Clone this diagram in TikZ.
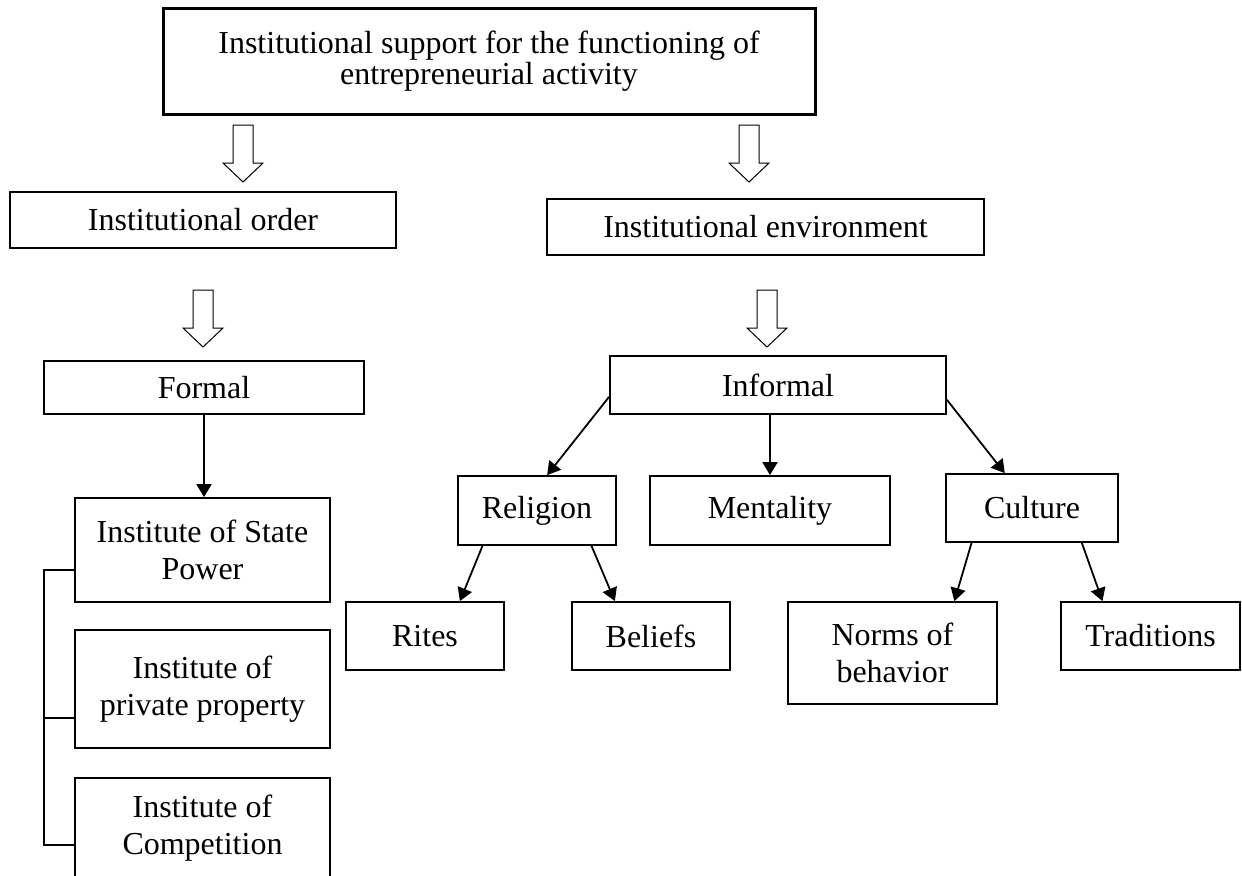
\documentclass[tikz,border=0pt]{standalone}
\usepackage{fontspec}
\setmainfont{Liberation Serif}
\usepackage{tikz}
\usetikzlibrary{arrows.meta}

\tikzset{
  box/.style={draw, line width=0.9pt, align=center, inner sep=0pt,
    font=\fontsize{16}{18.5}\selectfont},
  arr/.style={line width=0.9pt, -{Triangle[length=6.5pt,width=7.5pt]}},
  blockarrow/.style={draw, line width=0.5pt, fill=white}
}
% hollow down arrow, #1 = top centre of the shaft
\newcommand{\hollowdown}[1]{%
  \draw[blockarrow] (#1) ++(-10,0) -- ++(20,0) -- ++(0,38) -- ++(10,0)
    -- ++(-20,19) -- ++(-20,-19) -- ++(10,0) -- cycle;}

\begin{document}
\begin{tikzpicture}[x=0.5pt,y=-0.5pt]
\useasboundingbox (0,0) rectangle (1242,875);

%top
\node[box, line width=1.5pt, minimum width=326pt, minimum height=53pt,
  font=\fontsize{16}{15.5}\selectfont] (support) at (489,61)
  {Institutional support for the functioning of\\entrepreneurial activity};

%second level
\node[box, minimum width=193pt, minimum height=28pt] (order) at (203,220) {Institutional order};
\node[box, minimum width=218.5pt, minimum height=28pt] (environment) at (765.5,227) {Institutional environment};

\hollowdown{243,125}
\hollowdown{749,125}
\hollowdown{203,290}
\hollowdown{767,290}

%formal branch
\node[box, minimum width=160pt, minimum height=26.5pt] (formal) at (204,387.5) {Formal};
\node[box, minimum width=127.5pt, minimum height=52pt] (statepower) at (202.5,550) {Institute of State\\Power};
\node[box, minimum width=127.5pt, minimum height=59pt] (property) at (202.5,689) {Institute of\\private property};
\node[box, minimum width=127.5pt, minimum height=50pt] (competition) at (202.5,828) {Institute of\\Competition};

\draw[arr] (formal.south) -- (formal.south |- statepower.north);

\coordinate (br1) at (44,570);
\coordinate (br2) at (44,718);
\coordinate (br3) at (44,845);
\draw[line width=0.9pt] (statepower.west |- br1) -- (br1) -- (br3) -- (competition.west |- br3);
\draw[line width=0.9pt] (br2) -- (property.west |- br2);

%informal branch
\node[box, minimum width=168pt, minimum height=29pt] (informal) at (778,385) {Informal};
\node[box, minimum width=79pt, minimum height=34.5pt] (religion) at (537,510.5) {Religion};
\node[box, minimum width=120pt, minimum height=34.5pt] (mentality) at (770,510.5) {Mentality};
\node[box, minimum width=86pt, minimum height=34pt] (culture) at (1032,508) {Culture};
\node[box, minimum width=79pt, minimum height=34pt] (rites) at (425,636) {Rites};
\node[box, minimum width=79pt, minimum height=34pt] (beliefs) at (651,636) {Beliefs};
\node[box, minimum width=104.5pt, minimum height=51pt] (norms) at (892.5,653) {Norms of\\behavior};
\node[box, minimum width=89.5pt, minimum height=34pt] (traditions) at (1150.5,636) {Traditions};

\draw[arr] (informal.184) -- (religion.74);
\draw[arr] (mentality.north |- informal.south) -- (mentality.north);
\draw[arr] (informal.355) -- (culture.128);
\draw[arr] (religion.213) -- (rites.45);
\draw[arr] (religion.327) -- (beliefs.136);
\draw[arr] (culture.210) -- (norms.40);
\draw[arr] (culture.325) -- (traditions.144);

\end{tikzpicture}
\end{document}
